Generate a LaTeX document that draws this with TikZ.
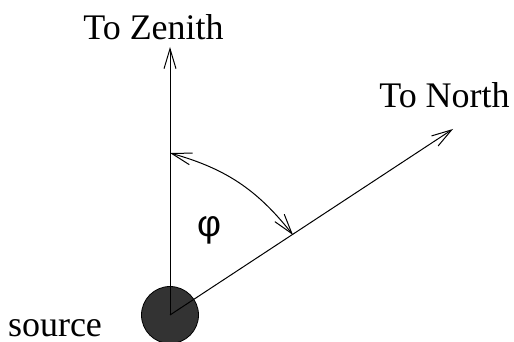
\documentclass[tikz,border=0pt]{standalone}
\usepackage{fontspec}
\setmainfont{Liberation Serif}
\newfontfamily\phifont{Liberation Sans}
\usepackage{tikz}
\usetikzlibrary{arrows.meta, positioning}
\usepackage{xcolor}
\definecolor{sourcecolor}{HTML}{333333}

\begin{document}
\begin{tikzpicture}[
    x=0.5pt, y=0.5pt,
    source/.style={circle, draw, fill=sourcecolor, minimum size=28.5pt, inner sep=0pt},
    ray/.style={-{Straight Barb[length=10pt, width=6pt]}, line width=0.5pt},
    sweep/.style={{Straight Barb[length=10pt, width=6pt]}-{Straight Barb[length=10pt, width=6pt]}, line width=0.5pt},
    label/.style={anchor=base, inner sep=0pt, font=\fontsize{18}{20}\selectfont},
]
\useasboundingbox (0,0) rectangle (514,342);

\node[source] (src) at (170, 27) {};
\coordinate (center) at (170, 27);
\coordinate (zenith) at (170, 295);
\coordinate (north) at (453, 213);
\coordinate (arcstart) at (170, 189);
\coordinate (arcend) at (293, 107);

\draw[ray] (center) -- (zenith);
\draw[ray] (center) -- (north);
\draw[sweep] (arcend) to[bend right=18] (arcstart);

\node[label] (zenithlabel) at (153.5, 302) {To Zenith};
\node[label] (northlabel) at (444.5, 234) {To North};
\node[label] (sourcelabel) at (55, 5) {source};
\node[inner sep=0pt, font=\phifont\fontsize{18.5}{20}\selectfont] (phi) at (209, 112) {φ};

\end{tikzpicture}
\end{document}
